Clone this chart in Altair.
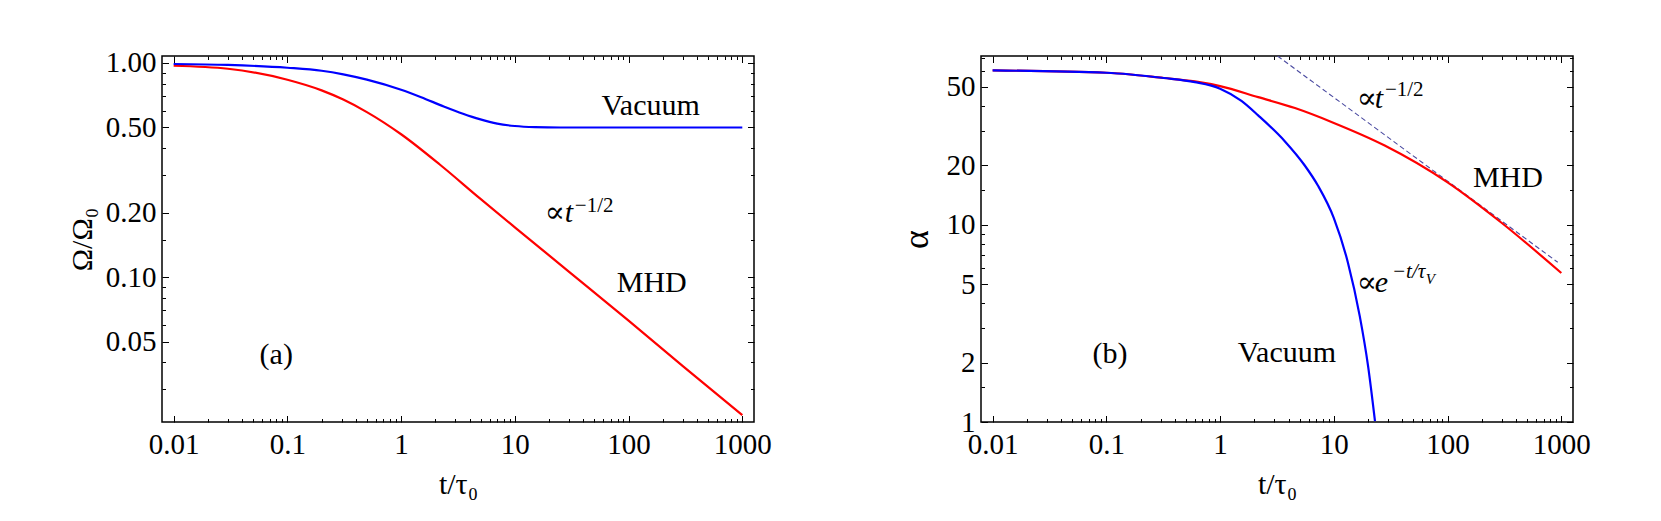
import altair as alt
import pandas as pd

SERIF = "Liberation Serif, DejaVu Serif, serif"

# ---------------- data ----------------
# panel (a): Omega/Omega0 versus t/tau0
a_mhd_t = [0.01, 0.03, 0.1, 0.2, 0.31, 0.5, 1, 2.2, 4.9, 10, 30, 100, 300, 1000]
a_mhd_omega = [0.971, 0.94, 0.835, 0.745, 0.675, 0.59, 0.465, 0.335, 0.234, 0.171, 0.106, 0.0627, 0.0385, 0.0227]
a_vac_t = [0.01, 0.03, 0.1, 0.2, 0.31, 0.5, 1, 1.5, 2.37, 3.5, 4.9, 7, 10, 15, 25, 1000]
a_vac_omega = [0.989, 0.979, 0.95, 0.92, 0.885, 0.836, 0.75, 0.692, 0.627, 0.58, 0.547, 0.521, 0.508, 0.502, 0.5, 0.5]

# panel (b): alpha versus t/tau0
b_mhd_t = [0.01, 0.1, 0.32, 0.6, 1, 2.16, 4.55, 10, 28, 100, 300, 1000]
b_mhd_alpha = [60.5, 58.9, 55.4, 53.2, 50.4, 44.3, 39.0, 32.8, 25.2, 16.4, 10.2, 5.69]
b_vac_t = [0.01, 0.1, 0.32, 0.6, 1, 1.54, 2.16, 3.7, 5.55, 7.26, 10, 13.3, 16.9, 20, 23]
b_vac_alpha = [60.5, 58.9, 55.4, 52.8, 48.9, 42.4, 35.8, 26.5, 19.95, 15.75, 10.8, 6.42, 3.44, 1.92, 1.01]
b_dash_t = [3.2, 930]
b_dash_alpha = [71.6, 6.45]

# axes
x_domain = [0.0079, 1267]
x_major = [0.01, 0.1, 1, 10, 100, 1000]
x_minor = [0.02, 0.03, 0.04, 0.05, 0.06, 0.07, 0.08, 0.09,
           0.2, 0.3, 0.4, 0.5, 0.6, 0.7, 0.8, 0.9,
           2, 3, 4, 5, 6, 7, 8, 9,
           20, 30, 40, 50, 60, 70, 80, 90,
           200, 300, 400, 500, 600, 700, 800, 900]
a_y_domain = [0.0211, 1.078]
a_y_major = [0.05, 0.1, 0.2, 0.5, 1.0]
a_y_minor = [0.03, 0.04, 0.06, 0.07, 0.08, 0.09, 0.15, 0.3, 0.4, 0.6, 0.7, 0.8, 0.9]
b_y_domain = [1, 71.6]
b_y_major = [1, 2, 5, 10, 20, 50]
b_y_minor = [1.5, 3, 4, 6, 7, 8, 9, 15, 30, 40, 60, 70]

# annotations (text, t, value)
a_normal = [("Vacuum", 57.8, 0.573), ("∝", 18.3, 0.1813), ("MHD", 78.7, 0.0854), ("(a)", 0.057, 0.0394)]
a_italic = [("t", 27.5, 0.1813)]
a_sup = [("−1/2", 33.7, 0.2018)]
a_supit = []
a_subsub = []

b_normal = [("MHD", 167, 15.5), ("∝", 15.9, 39.0), ("∝", 15.9, 4.55), ("Vacuum", 1.43, 2.01), ("(b)", 0.0755, 1.99)]
b_italic = [("t", 22.9, 39.0), ("e", 22.9, 4.55)]
b_sup = [("−1/2", 28.1, 45.0)]
b_supit = [("−t/τ", 32.4, 5.36)]
b_subsub = [("V", 64.4, 5.0)]


def tdf(rows):
    return pd.DataFrame(rows, columns=["label", "t", "v"])


def panel(mhd_t, mhd_v, vac_t, vac_v, ydom, ymaj, ymin, yfmt, ytitle, ytitle_size, ytitle_pad,
          normal, italic, sup, supit, subsub, dash_t=None, dash_v=None):
    xs = alt.Scale(type="log", domain=x_domain, nice=False)
    ys = alt.Scale(type="log", domain=ydom, nice=False)

    ax_b = alt.Axis(orient="bottom", values=x_major, format="~g", tickSize=6.5, offset=-6.5,
                    labelPadding=8, titlePadding=10, labelOverlap=False)
    ax_bm = alt.Axis(orient="bottom", values=x_minor, labels=False, tickSize=3.5, offset=-3.5)
    ax_t = alt.Axis(orient="top", values=x_major, labels=False, tickSize=6.5, offset=-6.5)
    ax_tm = alt.Axis(orient="top", values=x_minor, labels=False, tickSize=3.5, offset=-3.5)
    ax_l = alt.Axis(orient="left", values=ymaj, format=yfmt, tickSize=6.5, offset=-6.5,
                    labelPadding=6, titlePadding=ytitle_pad, titleFontSize=ytitle_size, labelOverlap=False)
    ax_lm = alt.Axis(orient="left", values=ymin, labels=False, tickSize=3.5, offset=-3.5)
    ax_r = alt.Axis(orient="right", values=ymaj, labels=False, tickSize=6.5, offset=-6.5)
    ax_rm = alt.Axis(orient="right", values=ymin, labels=False, tickSize=3.5, offset=-3.5)

    mhd = pd.DataFrame({"t": mhd_t, "v": mhd_v})
    vac = pd.DataFrame({"t": vac_t, "v": vac_v})

    layers = []
    if dash_t is not None:
        layers.append(
            alt.Chart(pd.DataFrame({"t": dash_t, "v": dash_v})).mark_line(
                color="#4a4aa0", strokeWidth=1.1, strokeDash=[5, 3], clip=True
            ).encode(x=alt.X("t:Q", scale=xs, axis=None), y=alt.Y("v:Q", scale=ys, axis=None))
        )
    layers.append(
        alt.Chart(mhd).mark_line(color="#ff0000", strokeWidth=2.2, interpolate="monotone", clip=True).encode(
            x=alt.X("t:Q", scale=xs, axis=ax_b, title="t/τ₀"),
            y=alt.Y("v:Q", scale=ys, axis=ax_l, title=ytitle),
        )
    )
    layers.append(
        alt.Chart(vac).mark_line(color="#0000ff", strokeWidth=2.2, interpolate="monotone", clip=True).encode(
            x=alt.X("t:Q", scale=xs, axis=ax_bm, title=None),
            y=alt.Y("v:Q", scale=ys, axis=ax_lm, title=None),
        )
    )
    layers.append(
        alt.Chart(tdf(normal)).mark_text(align="left", baseline="alphabetic", font=SERIF,
                                         fontSize=30, color="black").encode(
            x=alt.X("t:Q", scale=xs, axis=ax_t, title=None),
            y=alt.Y("v:Q", scale=ys, axis=ax_r, title=None),
            text="label:N",
        )
    )
    layers.append(
        alt.Chart(tdf(italic)).mark_text(align="left", baseline="alphabetic", font=SERIF,
                                         fontSize=30, fontStyle="italic", color="black").encode(
            x=alt.X("t:Q", scale=xs, axis=ax_tm, title=None),
            y=alt.Y("v:Q", scale=ys, axis=ax_rm, title=None),
            text="label:N",
        )
    )
    for rows, size, style in ((sup, 21, "normal"), (supit, 21, "italic"), (subsub, 15, "italic")):
        if rows:
            layers.append(
                alt.Chart(tdf(rows)).mark_text(align="left", baseline="alphabetic", font=SERIF,
                                               fontSize=size, fontStyle=style, color="black").encode(
                    x=alt.X("t:Q", scale=xs, axis=None),
                    y=alt.Y("v:Q", scale=ys, axis=None),
                    text="label:N",
                )
            )
    return alt.layer(*layers).resolve_axis(x="independent", y="independent").properties(width=592, height=366)


left = panel(a_mhd_t, a_mhd_omega, a_vac_t, a_vac_omega, a_y_domain, a_y_major, a_y_minor, ".2f", "Ω/Ω₀", 30, 8,
             a_normal, a_italic, a_sup, a_supit, a_subsub)
right = panel(b_mhd_t, b_mhd_alpha, b_vac_t, b_vac_alpha, b_y_domain, b_y_major, b_y_minor, "~g", "α", 36, 11,
              b_normal, b_italic, b_sup, b_supit, b_subsub, b_dash_t, b_dash_alpha)

chart = alt.hconcat(left, right, spacing=124).properties(
    padding={"left": 58, "top": 40, "right": 5, "bottom": 5}
).configure_view(stroke="black", strokeWidth=1.5).configure_axis(
    labelFont=SERIF, labelFontSize=29, titleFont=SERIF, titleFontSize=30, titleFontWeight="normal",
    grid=False, domain=False, tickColor="black", tickWidth=1, labelColor="black", titleColor="black"
)

chart.save("out.html", embed_options={"renderer": "svg", "actions": False})
